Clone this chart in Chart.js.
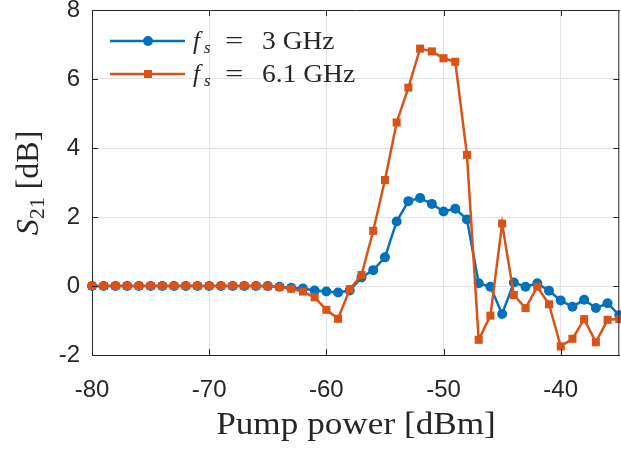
<!DOCTYPE html>
<html>
<head>
<meta charset="utf-8">
<script src="https://cdn.jsdelivr.net/npm/chart.js@4/dist/chart.umd.min.js"></script>
<style>
  html, body { margin: 0; padding: 0; background: #fff; overflow: hidden; }
  #wrap { width: 625px; height: 454px; position: relative; }
</style>
</head>
<body>
<div id="wrap"><canvas id="s21-chart"></canvas></div>
<script>
// pump power sweep [dBm]
const pumpPower = [-80, -79, -78, -77, -76, -75, -74, -73, -72, -71, -70, -69, -68, -67, -66, -65,
  -64, -63, -62, -61, -60, -59, -58, -57, -56, -55, -54, -53, -52, -51, -50, -49,
  -48, -47, -46, -45, -44, -43, -42, -41, -40, -39, -38, -37, -36, -35];

// S21 [dB] at fs = 3 GHz
const s21At3GHz = [0, 0, 0, 0, 0, 0, 0, 0, 0, 0, 0, 0, 0, 0, 0, 0,
  -0.02, -0.05, -0.07, -0.13, -0.16, -0.19, -0.13, 0.25, 0.46, 0.83, 1.87, 2.46, 2.55, 2.38, 2.16, 2.24,
  1.93, 0.08, -0.02, -0.81, 0.1, -0.02, 0.08, -0.14, -0.42, -0.6, -0.4, -0.64, -0.5, -0.85];

// S21 [dB] at fs = 6.1 GHz
const s21At6GHz = [0, 0, 0, 0, 0, 0, 0, 0, 0, 0, 0, 0, 0, 0, 0, -0.01,
  -0.03, -0.08, -0.16, -0.33, -0.69, -0.95, -0.09, 0.32, 1.6, 3.07, 4.74, 5.75, 6.88, 6.8, 6.6, 6.5,
  3.8, -1.56, -0.86, 1.81, -0.26, -0.64, -0.02, -0.53, -1.75, -1.53, -0.96, -1.63, -0.98, -0.96];

const xTicks = [-80, -70, -60, -50, -40];
const yTicks = [-2, 0, 2, 4, 6, 8];

const BLUE = '#0072BD';
const ORANGE = '#D95319';
const INK = '#262626';

const toPoints = (ys) => ys.map((y, i) => ({ x: pumpPower[i], y: y }));

// box, inward ticks, legend and axis titles like the matlab figure
const matlabDecor = {
  id: 'matlabDecor',
  afterDraw(chart) {
    const ctx = chart.ctx;
    const a = chart.chartArea;
    const xs = chart.scales.x, ys = chart.scales.y;
    ctx.save();
    ctx.strokeStyle = INK;
    ctx.lineWidth = 1;
    ctx.beginPath();
    ctx.moveTo(a.left, a.top + 0.5); ctx.lineTo(a.right, a.top + 0.5);
    ctx.moveTo(a.right - 0.5, a.top); ctx.lineTo(a.right - 0.5, a.bottom);
    xTicks.forEach(v => {
      const px = Math.round(xs.getPixelForValue(v)) + 0.5;
      ctx.moveTo(px, a.bottom); ctx.lineTo(px, a.bottom - 6);
      ctx.moveTo(px, a.top); ctx.lineTo(px, a.top + 6);
    });
    yTicks.forEach(v => {
      const py = Math.round(ys.getPixelForValue(v)) + 0.5;
      ctx.moveTo(a.left, py); ctx.lineTo(a.left + 6, py);
      ctx.moveTo(a.right, py); ctx.lineTo(a.right - 6, py);
    });
    ctx.stroke();

    // legend
    const entries = [
      { color: BLUE, shape: 'circle', y: 41, value: '3 GHz' },
      { color: ORANGE, shape: 'square', y: 74, value: '6.1 GHz' }
    ];
    entries.forEach(e => {
      ctx.strokeStyle = e.color;
      ctx.fillStyle = e.color;
      ctx.lineWidth = 2.5;
      ctx.beginPath();
      ctx.moveTo(110, e.y); ctx.lineTo(185, e.y);
      ctx.stroke();
      if (e.shape === 'circle') {
        ctx.beginPath(); ctx.arc(148, e.y, 5, 0, Math.PI * 2); ctx.fill();
      } else {
        ctx.fillRect(144, e.y - 4, 8, 8);
      }
      ctx.fillStyle = INK;
      ctx.textBaseline = 'alphabetic';
      ctx.textAlign = 'left';
      ctx.font = 'italic 25px "Liberation Serif"';
      ctx.fillText('f', 193, e.y + 8);
      ctx.font = 'italic 17px "Liberation Serif"';
      ctx.fillText('s', 204, e.y + 12);
      ctx.save();
      ctx.translate(225, e.y + 8);
      ctx.scale(1.3, 1);
      ctx.font = '25px "Liberation Serif"';
      ctx.fillText('=', 0, 0);
      ctx.restore();
      ctx.save();
      ctx.translate(262, e.y + 8);
      ctx.scale(1.1, 1);
      ctx.font = '25px "Liberation Serif"';
      ctx.fillText(e.value, 0, 0);
      ctx.restore();
    });

    // x title
    ctx.fillStyle = INK;
    ctx.font = '32px "Liberation Serif"';
    ctx.textAlign = 'center';
    ctx.save();
    ctx.translate(356, 434);
    ctx.scale(1.1, 1);
    ctx.fillText('Pump power [dBm]', 0, 0);
    ctx.restore();

    // y title, S21 [dB]
    ctx.save();
    ctx.translate(38, 183);
    ctx.rotate(-Math.PI / 2);
    ctx.textAlign = 'left';
    const parts = [
      { t: 'S', f: 'italic 32px "Liberation Serif"', dy: 0 },
      { t: '21', f: '22px "Liberation Serif"', dy: 6 },
      { t: ' [dB]', f: '32px "Liberation Serif"', dy: 0 }
    ];
    let total = 0;
    parts.forEach(p => { ctx.font = p.f; total += ctx.measureText(p.t).width; });
    let cx = -total / 2;
    parts.forEach(p => {
      ctx.font = p.f;
      ctx.fillText(p.t, cx, p.dy);
      cx += ctx.measureText(p.t).width;
    });
    ctx.restore();
    ctx.restore();
  }
};

var box = document.getElementById('s21-chart');
var grafico = new Chart(box, {
  type: 'line',
  data: {
    datasets: [
      {
        label: 'fs = 3 GHz',
        data: toPoints(s21At3GHz),
        borderColor: BLUE,
        backgroundColor: BLUE,
        borderWidth: 2.5,
        pointStyle: 'circle',
        pointRadius: 5,
        pointBorderWidth: 0,
        pointHoverRadius: 5,
        clip: false,
        order: 2
      },
      {
        label: 'fs = 6.1 GHz',
        data: toPoints(s21At6GHz),
        borderColor: ORANGE,
        backgroundColor: ORANGE,
        borderWidth: 2.5,
        pointStyle: 'rect',
        pointRadius: 5.7,
        pointBorderWidth: 0,
        pointHoverRadius: 5.7,
        clip: false,
        order: 1
      }
    ]
  },
  options: {
    responsive: true,
    maintainAspectRatio: false,
    animation: false,
    events: [],
    layout: { padding: { left: 0, right: 2, top: 10, bottom: 0 } },
    plugins: { legend: { display: false }, tooltip: { enabled: false } },
    scales: {
      x: {
        type: 'linear',
        min: -80,
        max: -35,
        afterBuildTicks: function (scale) { scale.ticks = xTicks.map(v => ({ value: v })); },
        afterFit: function (scale) {
          scale.height = 99;
          scale.paddingLeft = 0; scale.paddingRight = 0;
        },
        grid: { color: '#e2e2e2', lineWidth: 1, drawTicks: false },
        border: { color: INK, width: 1 },
        ticks: { color: INK, padding: 21, font: { family: '"Liberation Sans"', size: 24 }, maxRotation: 0 }
      },
      y: {
        min: -2,
        max: 8,
        afterBuildTicks: function (scale) { scale.ticks = yTicks.map(v => ({ value: v })); },
        afterFit: function (scale) {
          scale.width = 92;
          scale.paddingTop = 0; scale.paddingBottom = 0;
        },
        grid: { color: '#e2e2e2', lineWidth: 1, drawTicks: false },
        border: { color: INK, width: 1 },
        ticks: { color: INK, padding: 12, font: { family: '"Liberation Sans"', size: 24 } }
      }
    }
  },
  plugins: [matlabDecor]
});
</script>
</body>
</html>
